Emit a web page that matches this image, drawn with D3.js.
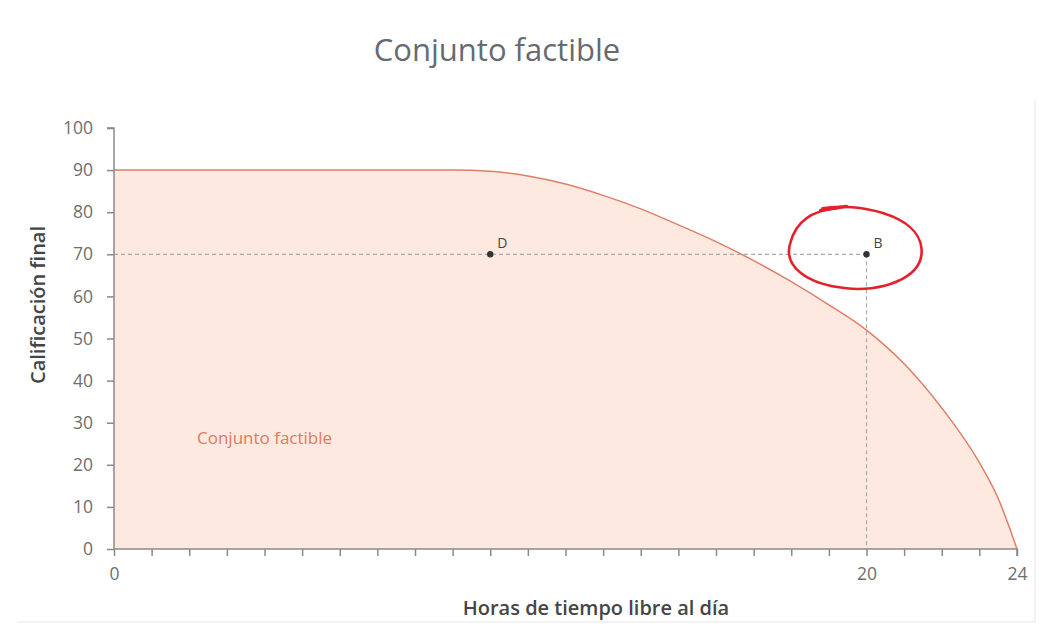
<!DOCTYPE html>
<html><head><meta charset="utf-8">
<script src="https://cdn.jsdelivr.net/npm/d3@7"></script>
<style>body{margin:0;background:#fff;} svg{display:block;}</style>
</head><body>
<svg id="c" width="1048" height="636"></svg>
<script>
const hours = [0, 9, 10, 11, 12, 13, 14, 15, 16, 17, 18, 19, 20, 21, 22, 23, 23.5, 24];
const grade = [90, 90, 89.7, 88.6, 86.7, 84, 80.8, 77, 73, 68.5, 63.5, 58, 52, 44, 33.5, 20.5, 12, 0];
const yTicks = [0, 10, 20, 30, 40, 50, 60, 70, 80, 90, 100];
const xTickLabels = [0, 20, 24];
const pointNames = ["D", "B"];
const pointX = [10, 20];
const pointY = [70, 70];

const svg = d3.select("#c");
const font = "'Open Sans', 'Noto Sans', sans-serif";
const x = d3.scaleLinear().domain([0, 24]).range([114, 1017]);
const y = d3.scaleLinear().domain([0, 100]).range([549, 128]);

// faint frame
svg.append("path").attr("d", `M17,622H1035V100`).attr("fill", "none").attr("stroke", "#f0f0f0").attr("stroke-width", 1.5);

// title
svg.append("text").attr("x", 497).attr("y", 61).attr("text-anchor", "middle")
  .attr("font-family", font).attr("font-size", 31).attr("fill", "#666b70").text("Conjunto factible");

const pts = hours.map((h, i) => [h, grade[i]]);
const area = d3.area().x(d => x(d[0])).y0(y(0)).y1(d => y(d[1])).curve(d3.curveMonotoneX);
const line = d3.line().x(d => x(d[0])).y(d => y(d[1])).curve(d3.curveMonotoneX);
svg.append("path").datum(pts).attr("d", area).attr("fill", "#fde9df");
svg.append("path").datum(pts).attr("d", line).attr("fill", "none").attr("stroke", "#de7f68").attr("stroke-width", 1.5);

// dashed guides
svg.append("line").attr("x1", x(0)).attr("x2", x(20)).attr("y1", y(70)).attr("y2", y(70))
  .attr("stroke", "#aaa").attr("stroke-width", 1.2).attr("stroke-dasharray", "4,3");
svg.append("line").attr("x1", x(20)).attr("x2", x(20)).attr("y1", y(70)).attr("y2", y(0))
  .attr("stroke", "#aaa").attr("stroke-width", 1.2).attr("stroke-dasharray", "4,3");

// axes
const yAxis = d3.axisLeft(y).tickValues(yTicks).tickSize(7).tickPadding(14);
const gy = svg.append("g").attr("transform", `translate(${x(0)},0)`).call(yAxis);
const xAxis = d3.axisBottom(x).ticks(24).tickSize(7).tickPadding(12)
  .tickFormat(d => xTickLabels.includes(d) ? d : "");
const gx = svg.append("g").attr("transform", `translate(0,${y(0)})`).call(xAxis);
[gx, gy].forEach(g => {
  g.select(".domain").attr("stroke", "#8a8a8a").attr("stroke-width", 1.5);
  g.selectAll(".tick line").attr("stroke", "#8a8a8a").attr("stroke-width", 1.5);
  g.selectAll(".tick text").attr("font-family", font).attr("font-size", 17.5).attr("fill", "#6e6e6e");
});
gy.select(".domain").attr("d", `M-7,${y(100)}H0V${y(0)}`);
gx.select(".domain").attr("d", `M${x(0)},0H${x(24)}V7`);

// axis titles
svg.append("text").attr("transform", `translate(45,305) rotate(-90)`).attr("text-anchor", "middle")
  .attr("font-family", font).attr("font-size", 20).attr("font-weight", 600).attr("fill", "#454545").text("Calificación final");
svg.append("text").attr("x", 596).attr("y", 615).attr("text-anchor", "middle")
  .attr("font-family", font).attr("font-size", 20).attr("font-weight", 600).attr("fill", "#454545").text("Horas de tiempo libre al día");

// area label
svg.append("text").attr("x", 197).attr("y", 444).attr("font-family", font).attr("font-size", 17)
  .attr("fill", "#e07a62").text("Conjunto factible");

// points
pointNames.forEach((n, i) => {
  svg.append("circle").attr("cx", x(pointX[i])).attr("cy", y(pointY[i])).attr("r", 3.2).attr("fill", "#333");
  svg.append("text").attr("x", x(pointX[i]) + 7).attr("y", y(pointY[i]) - 6)
    .attr("font-family", font).attr("font-size", 14).attr("fill", "#444").text(n);
});

// red hand-drawn circle around B
const bx = x(20), by = y(70);
svg.append("path")
  .attr("d", `M${bx-44},${by-46} C${bx-10},${by-52} ${bx+52},${by-40} ${bx+55},${by-6}
    C${bx+58},${by+26} ${bx+10},${by+38} ${bx-20},${by+34}
    C${bx-60},${by+30} ${bx-84},${by+12} ${bx-76},${by-12}
    C${bx-70},${by-34} ${bx-52},${by-44} ${bx-30},${by-46}`)
  .attr("fill", "none").attr("stroke", "#e5202a").attr("stroke-width", 2.6).attr("stroke-linecap", "round");
svg.append("path").attr("d", `M${bx-46},${by-44} L${bx-20},${by-48}`)
  .attr("fill", "none").attr("stroke", "#e5202a").attr("stroke-width", 3.2).attr("stroke-linecap", "round");
</script>
</body></html>
